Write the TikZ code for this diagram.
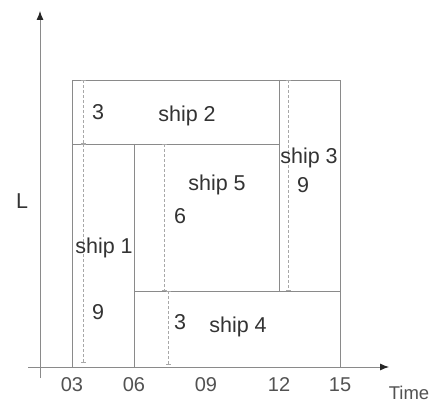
\documentclass[tikz,border=0pt]{standalone}
\usepackage{fontspec}
\setmainfont{Liberation Sans}
\usetikzlibrary{arrows.meta}
\definecolor{edge}{HTML}{8A8A8A}
\definecolor{ink}{HTML}{333333}
\definecolor{dim}{HTML}{A8A8A8}
\begin{document}
\begin{tikzpicture}[x=1pt,y=-1pt,
  axis/.style={draw=edge,line width=0.9pt,-{Latex[length=9pt,width=7pt,color=black!85]}},
  berth/.style={draw=edge,line width=0.9pt},
  dimline/.style={draw=dim,line width=0.6pt,dashed,dash pattern=on 3pt off 2pt,{Bar[width=5pt]}-{Bar[width=5pt]}},
  lbl/.style={text=ink,font=\fontsize{21.5}{21.5}\selectfont,inner sep=0pt},
  tick/.style={text=ink!85,font=\fontsize{20}{20}\selectfont,inner sep=0pt}]
\useasboundingbox (0,0) rectangle (436,406);
\fill[white] (0,0) rectangle (436,406);
% axes
\coordinate (yo) at (40,378);
\coordinate (yt) at (40,11);
\coordinate (xo) at (28,367);
\coordinate (xt) at (389,367);
\draw[axis] (yo) -- (yt);
\draw[axis] (xo) -- (xt);
% ship rectangles (time x length)
\draw[berth] (72,80) rectangle (340,367);
\draw[berth] (72,144) -- (279,144);
\draw[berth] (279,80) -- (279,291);
\draw[berth] (134,144) -- (134,367);
\draw[berth] (134,291) -- (340,291);
% dimension lines
\draw[dimline] (83,80) -- (83,144);
\draw[dimline] (83,144) -- (83,363);
\draw[dimline] (164,144) -- (164,291);
\draw[dimline] (168,291) -- (168,365);
\draw[dimline] (288,80) -- (288,291);
% labels
\node[lbl] (d2) at (98,112) {3};
\node[lbl] (s2) at (187,116) {ship 2};
\node[lbl] (s3) at (309,158) {ship 3};
\node[lbl] (d3) at (303,185) {9};
\node[lbl] (s5) at (217,185) {ship 5};
\node[lbl] (d5) at (180,216) {6};
\node[lbl] (s1) at (104,248) {ship 1};
\node[lbl] (d1) at (98,312) {9};
\node[lbl] (d4) at (180,322) {3};
\node[lbl] (s4) at (238,327) {ship 4};
\node[lbl] (ax) at (22,201) {L};
\node[tick] (t03) at (72,385) {03};
\node[tick] (t06) at (134,385) {06};
\node[tick] (t09) at (206,385) {09};
\node[tick] (t12) at (279,385) {12};
\node[tick] (t15) at (340,385) {15};
\node[tick,font=\fontsize{18.5}{18.5}\selectfont] (tm) at (409,393) {Time};
\end{tikzpicture}
\end{document}
